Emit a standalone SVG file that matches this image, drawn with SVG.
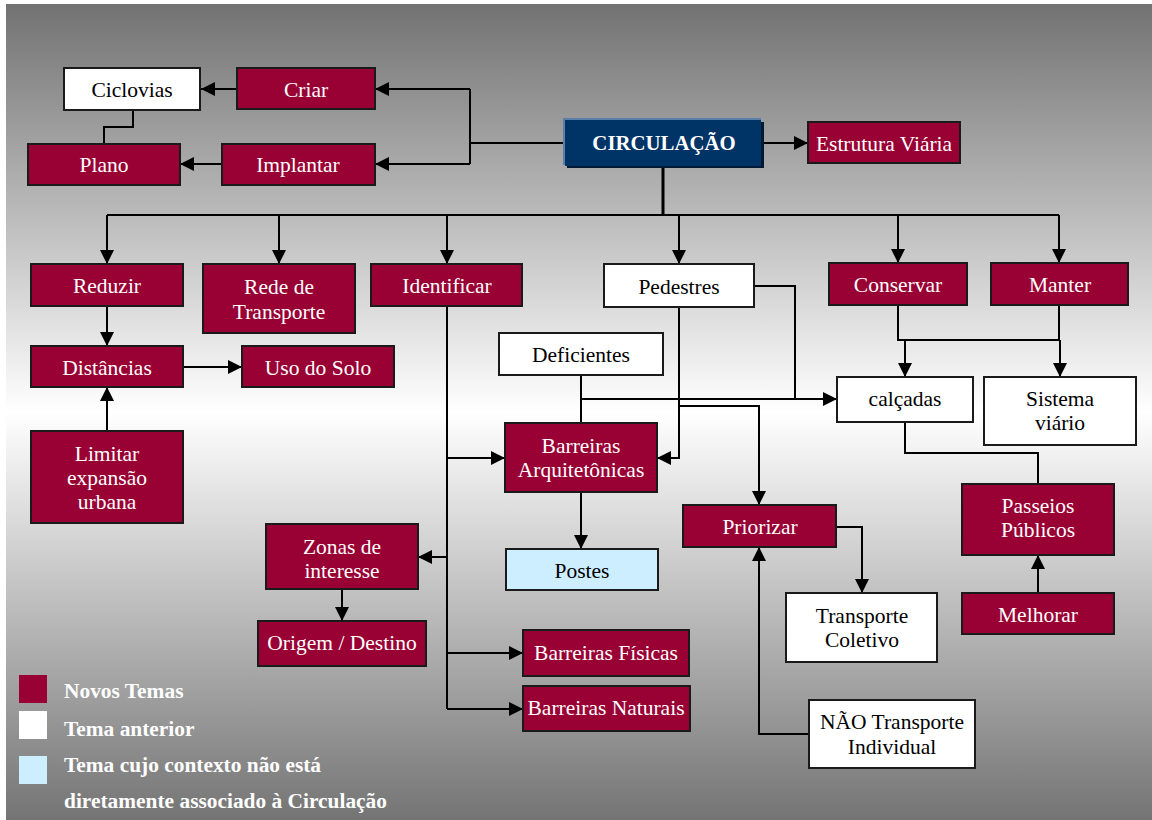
<svg xmlns="http://www.w3.org/2000/svg" width="1152" height="820" viewBox="0 0 1152 820">
<defs>
<linearGradient id="bg" x1="0" y1="0" x2="0" y2="1">
<stop offset="0" stop-color="#727272"/>
<stop offset="0.5" stop-color="#ffffff"/>
<stop offset="1" stop-color="#747474"/>
</linearGradient>
<marker id="arr" markerUnits="userSpaceOnUse" markerWidth="14" markerHeight="14" viewBox="0 0 14 14" refX="14" refY="7" orient="auto">
<path d="M0,0 L14,7 L0,14 z" fill="#000"/>
</marker>
<style>
.m{fill:#990033;stroke:#1a1a1a;stroke-width:2}
.w{fill:#ffffff;stroke:#1a1a1a;stroke-width:2}
.b{fill:#cceeff;stroke:#1a1a1a;stroke-width:2}
.tm{font-family:"Liberation Serif","Times New Roman",serif;font-size:21.5px;fill:#ffffff;text-anchor:middle}
.tw{font-family:"Liberation Serif","Times New Roman",serif;font-size:21.5px;fill:#000000;text-anchor:middle}
.lg{font-family:"Liberation Serif","Times New Roman",serif;font-size:21.4px;font-weight:bold;fill:#ffffff}
.c{fill:none;stroke:#000;stroke-width:2}
.a{fill:none;stroke:#000;stroke-width:2;marker-end:url(#arr)}
</style>
</defs>
<rect x="6" y="4" width="1146" height="816" fill="url(#bg)"/>

<g id="connectors">
<path class="c" d="M566,143 H470 M470,89 V164"/>
<path class="a" d="M470,89 H375"/>
<path class="a" d="M470,164 H375"/>
<path class="a" d="M237,89 H201"/>
<path class="a" d="M222,164 H180"/>
<path class="c" d="M133,110 V127 H104 V144"/>
<path class="a" d="M762,143 H808"/>
<path class="c" d="M663,167 V215" style="stroke-width:3"/>
<path class="c" d="M107,215 H1059"/>
<path class="a" d="M107,215 V264"/>
<path class="a" d="M279,215 V264"/>
<path class="a" d="M447,215 V264"/>
<path class="a" d="M679,215 V264"/>
<path class="a" d="M898,215 V263"/>
<path class="a" d="M1059,215 V263"/>
<path class="a" d="M107,306 V346"/>
<path class="a" d="M183,367 H242"/>
<path class="a" d="M107,431 V387"/>
<path class="c" d="M447,306 V709"/>
<path class="a" d="M447,458 H505"/>
<path class="a" d="M447,557 H418"/>
<path class="a" d="M447,653 H523"/>
<path class="a" d="M447,709 H523"/>
<path class="a" d="M342,589 V621"/>
<path class="a" d="M679,307 V458 H657"/>
<path class="c" d="M754,286 H795 V399"/>
<path class="c" d="M581,375 V423"/>
<path class="a" d="M581,399 H837"/>
<path class="a" d="M679,406 H759 V505"/>
<path class="a" d="M581,492 V549"/>
<path class="a" d="M836,527 H862 V593"/>
<path class="a" d="M809,734 H759 V547"/>
<path class="c" d="M898,305 V340 H1060 M1059,305 V340"/>
<path class="a" d="M905,340 V377"/>
<path class="a" d="M1060,340 V377"/>
<path class="c" d="M905,422 V453 H1038 V484"/>
<path class="a" d="M1038,593 V555"/>
</g>

<g id="n-circulacao">
<rect x="563" y="118" width="198" height="47" fill="#5a7fa8"/>
<rect x="567" y="122" width="197" height="46" fill="#001a33"/>
<rect x="565" y="120" width="196" height="46" fill="#003366"/>
<text x="664" y="150" style="font-family:'Liberation Serif','Times New Roman',serif;font-size:20.8px;font-weight:bold;fill:#ffffff;text-anchor:middle">CIRCULAÇÃO</text>
</g>
<g id="n-ciclovias"><rect class="w" x="64" y="68" width="136" height="42"/><text class="tw" x="132" y="97">Ciclovias</text></g>
<g id="n-criar"><rect class="m" x="237" y="68" width="138" height="41"/><text class="tm" x="306" y="97">Criar</text></g>
<g id="n-plano"><rect class="m" x="28" y="144" width="152" height="41"/><text class="tm" x="104" y="172">Plano</text></g>
<g id="n-implantar"><rect class="m" x="222" y="144" width="153" height="41"/><text class="tm" x="298" y="172">Implantar</text></g>
<g id="n-estrutura"><rect class="m" x="808" y="122" width="152" height="41"/><text class="tm" x="884" y="151">Estrutura Viária</text></g>

<g id="n-reduzir"><rect class="m" x="31" y="264" width="152" height="42"/><text class="tm" x="107" y="293">Reduzir</text></g>
<g id="n-rede"><rect class="m" x="203" y="264" width="152" height="69"/><text class="tm" x="279" y="294">Rede de</text><text class="tm" x="279" y="319">Transporte</text></g>
<g id="n-identificar"><rect class="m" x="371" y="264" width="151" height="42"/><text class="tm" x="447" y="293">Identificar</text></g>
<g id="n-pedestres"><rect class="w" x="604" y="264" width="150" height="43"/><text class="tw" x="679" y="294">Pedestres</text></g>
<g id="n-conservar"><rect class="m" x="829" y="263" width="138" height="42"/><text class="tm" x="898" y="292">Conservar</text></g>
<g id="n-manter"><rect class="m" x="991" y="263" width="137" height="42"/><text class="tm" x="1060" y="292">Manter</text></g>

<g id="n-distancias"><rect class="m" x="31" y="346" width="152" height="41"/><text class="tm" x="107" y="375">Distâncias</text></g>
<g id="n-uso"><rect class="m" x="242" y="346" width="152" height="41"/><text class="tm" x="318" y="375">Uso do Solo</text></g>
<g id="n-limitar"><rect class="m" x="31" y="431" width="152" height="92"/><text class="tm" x="107" y="461">Limitar</text><text class="tm" x="107" y="485">expansão</text><text class="tm" x="107" y="509">urbana</text></g>

<g id="n-deficientes"><rect class="w" x="499" y="333" width="164" height="42"/><text class="tw" x="581" y="362">Deficientes</text></g>
<g id="n-barq"><rect class="m" x="505" y="423" width="152" height="69"/><text class="tm" x="581" y="453">Barreiras</text><text class="tm" x="581" y="477">Arquitetônicas</text></g>
<g id="n-calcadas"><rect class="w" x="837" y="377" width="136" height="45"/><text class="tw" x="905" y="406">calçadas</text></g>
<g id="n-sistema"><rect class="w" x="984" y="377" width="152" height="68"/><text class="tw" x="1060" y="406">Sistema</text><text class="tw" x="1060" y="430">viário</text></g>

<g id="n-postes"><rect class="b" x="506" y="549" width="152" height="41"/><text class="tw" x="582" y="578">Postes</text></g>
<g id="n-zonas"><rect class="m" x="266" y="524" width="152" height="65"/><text class="tm" x="342" y="554">Zonas de</text><text class="tm" x="342" y="578">interesse</text></g>
<g id="n-origem"><rect class="m" x="258" y="621" width="168" height="45"/><text class="tm" x="342" y="650">Origem / Destino</text></g>
<g id="n-bfisicas"><rect class="m" x="523" y="630" width="166" height="46"/><text class="tm" x="606" y="660">Barreiras Físicas</text></g>
<g id="n-bnaturais"><rect class="m" x="523" y="686" width="167" height="45"/><text class="tm" x="606" y="715">Barreiras Naturais</text></g>

<g id="n-priorizar"><rect class="m" x="683" y="505" width="153" height="42"/><text class="tm" x="760" y="534">Priorizar</text></g>
<g id="n-tcoletivo"><rect class="w" x="786" y="593" width="151" height="69"/><text class="tw" x="862" y="623">Transporte</text><text class="tw" x="862" y="647">Coletivo</text></g>
<g id="n-nao"><rect class="w" x="809" y="700" width="166" height="68"/><text class="tw" x="892" y="729">NÃO Transporte</text><text class="tw" x="892" y="754">Individual</text></g>
<g id="n-passeios"><rect class="m" x="962" y="484" width="152" height="71"/><text class="tm" x="1038" y="513">Passeios</text><text class="tm" x="1038" y="537">Públicos</text></g>
<g id="n-melhorar"><rect class="m" x="962" y="593" width="152" height="41"/><text class="tm" x="1038" y="622">Melhorar</text></g>

<g id="legend">
<rect x="19" y="675" width="28" height="28" fill="#990033"/>
<rect x="19" y="711" width="28" height="28" fill="#ffffff"/>
<rect x="19" y="756" width="28" height="28" fill="#cceeff"/>
<text class="lg" x="64" y="698">Novos Temas</text>
<text class="lg" x="64" y="736">Tema anterior</text>
<text class="lg" x="64" y="772">Tema cujo contexto não está</text>
<text class="lg" x="64" y="808">diretamente associado à Circulação</text>
</g>
</svg>
